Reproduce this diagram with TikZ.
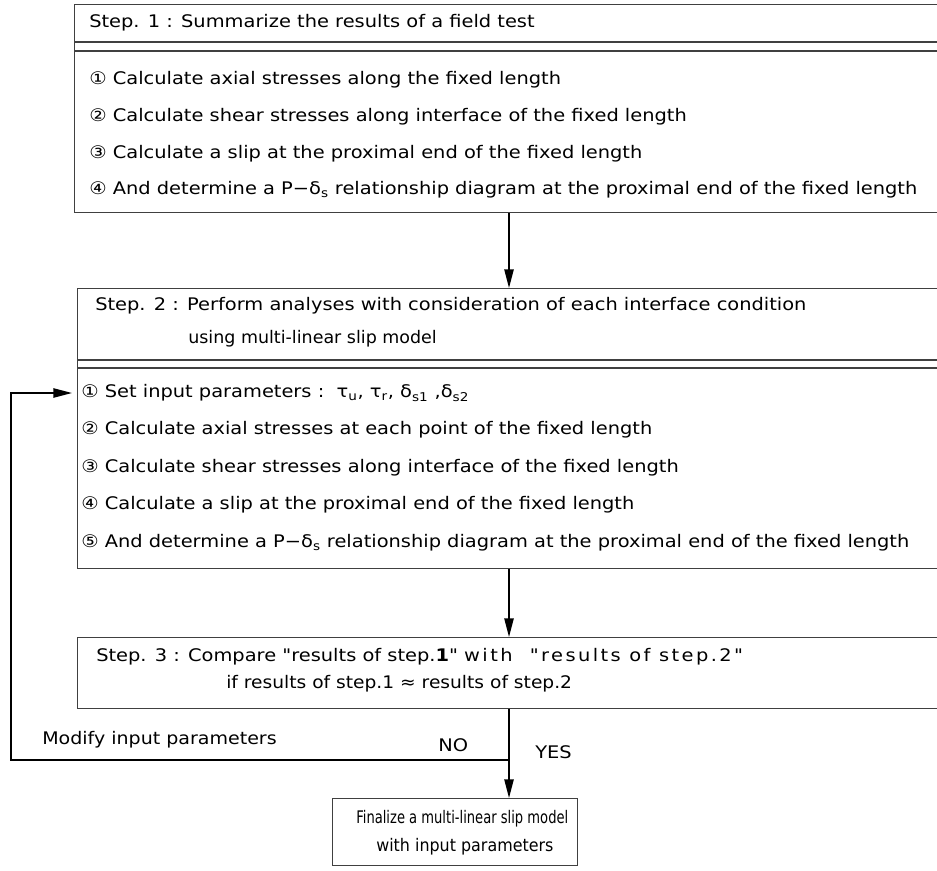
\documentclass[tikz,border=0pt]{standalone}
\usepackage{fontspec}
\usepackage{graphicx}
\newfontfamily\mainf[FakeStretch=1.12]{DejaVu Sans}
\usetikzlibrary{arrows.meta,calc}
\begin{document}
\begin{tikzpicture}[x=0.75pt,y=-0.75pt,
  box/.style={draw=black!75,line width=1pt,inner sep=0pt,anchor=north west},
  txt/.style={anchor=west,inner sep=0pt,font=\mainf\fontsize{13}{15}\selectfont},
  arr/.style={line width=1.1pt,-{Triangle[length=14pt,width=7pt]}},
  sep/.style={draw=black!75,line width=1pt}]
\useasboundingbox[fill=white] (0,0) rectangle (937,870);
% boxes
\node[box,minimum width=649.5pt,minimum height=156pt] (s1) at (74,4) {};
\node[box,minimum width=647.25pt,minimum height=210pt] (s2) at (77,288) {};
\node[box,minimum width=647.25pt,minimum height=53.25pt] (s3) at (77,637) {};
\node[box,minimum width=183.75pt,minimum height=50.25pt] (fin) at (332,798) {};
% separators
\draw[sep] (s1.west |- 0,42) -- (940,42);
\draw[sep] (s1.west |- 0,51) -- (940,51);
\draw[sep] (s2.west |- 0,360) -- (940,360);
\draw[sep] (s2.west |- 0,368) -- (940,368);
% step 1 texts
\node[txt] (t1) at (89,23) {Step. 1 : Summarize the results of a field test};
\node[txt] (a1) at (89,80) {① Calculate axial stresses along the fixed length};
\node[txt] (a2) at (89,117) {② Calculate shear stresses along interface of the fixed length};
\node[txt] (a3) at (89,154) {③ Calculate a slip at the proximal end of the fixed length};
\node[txt] (a4) at (89,190) {④ And determine a P−δ\textsubscript{s} relationship diagram at the proximal end of the fixed length};
% step 2 texts
\node[txt] (t2) at (95,306) {Step. 2 : Perform analyses with consideration of each interface condition};
\node[txt] (t2b) at (188,339) {\scalebox{0.9}[1]{using multi-linear slip model}};
\node[txt] (b1) at (81,393) {① Set input parameters :\ \ τ\textsubscript{u}, τ\textsubscript{r}, δ\textsubscript{s1} ,δ\textsubscript{s2}};
\node[txt] (b2) at (81,430) {② Calculate axial stresses at each point of the fixed length};
\node[txt] (b3) at (81,468) {③ Calculate shear stresses along interface of the fixed length};
\node[txt] (b4) at (81,505) {④ Calculate a slip at the proximal end of the fixed length};
\node[txt] (b5) at (81,543) {⑤ And determine a P−δ\textsubscript{s} relationship diagram at the proximal end of the fixed length};
% step 3 texts
\node[txt] (t3) at (96,657) {Step. 3 : Compare "results of step.\textbf{1}" {\addfontfeature{LetterSpace=14}with\ \ "results of step.2"}};
\node[txt] (t3b) at (226,684) {\scalebox{0.96}[1]{if results of step.1 ≈ results of step.2}};
% final
\node[txt] (f1) at (356,819) {\scalebox{0.675}[1]{Finalize a multi-linear slip model}};
\node[txt] (f2) at (376,847) {\scalebox{0.82}[1]{with input parameters}};
% labels
\node[txt] (mod) at (42,740) {\scalebox{0.98}[1]{Modify input parameters}};
\node[txt] (no) at (438,745) {NO};
\node[txt] (yes) at (535,752) {YES};
% connectors
\coordinate (x1) at (509,0);
\coordinate (j) at (509,760);
\coordinate (lc) at (11,760);
\draw[arr] (s1.south -| x1) -- (s2.north -| x1);
\draw[arr] (s2.south -| x1) -- (s3.north -| x1);
\draw[arr] (s3.south -| j) -- (fin.north -| j);
\draw[arr,shorten >=3.75pt] (j) -- (lc) -- (lc |- b1) -- (s2.west |- b1);
\end{tikzpicture}
\end{document}
